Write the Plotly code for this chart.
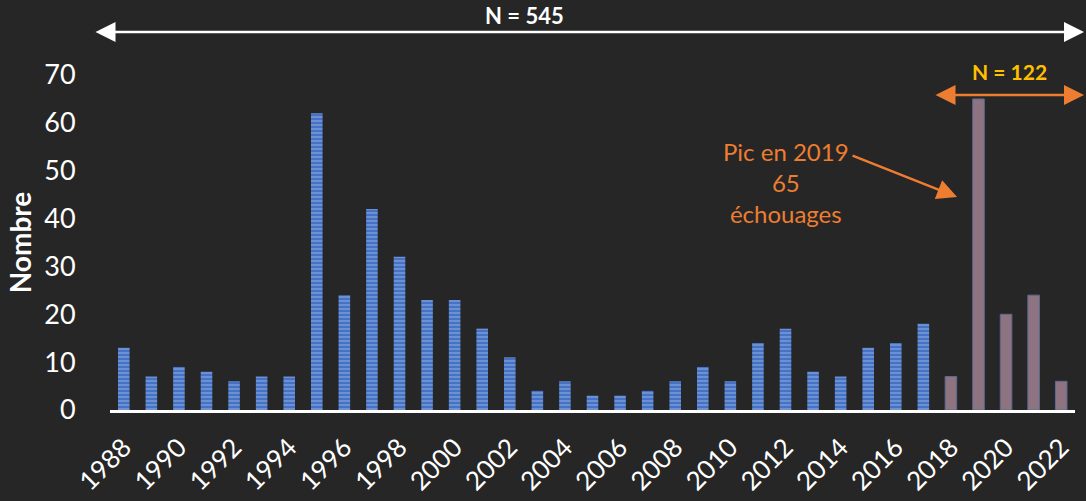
import plotly.graph_objects as go

years = list(range(1988, 2023))
counts = [13, 7, 9, 8, 6, 7, 7, 62, 24, 42, 32, 23, 23, 17, 11, 4, 6, 3, 3, 4,
          6, 9, 6, 14, 17, 8, 7, 13, 14, 18, 7, 65, 20, 24, 6]
recent_start = 2018
tick_years = list(range(1988, 2023, 2))
y_ticks = list(range(0, 71, 10))

old_x = [y for y in years if y < recent_start]
old_y = [c for y, c in zip(years, counts) if y < recent_start]
new_x = [y for y in years if y >= recent_start]
new_y = [c for y, c in zip(years, counts) if y >= recent_start]

FONT = "Lato"
BG = "#262626"
ORANGE = "#ED7D31"

fig = go.Figure()
fig.add_trace(go.Bar(
    x=old_x, y=old_y, width=0.42,
    marker=dict(color="#4472C4", line=dict(width=0),
                pattern=dict(shape="-", fgcolor="#9DB5E0", size=4, solidity=0.45)),
))
fig.add_trace(go.Bar(
    x=new_x, y=new_y, width=0.42,
    marker=dict(color="#8E7480", line=dict(width=1, color="#5B6A92")),
))

txt = dict(xref="paper", yref="paper", showarrow=False, xanchor="center", yanchor="middle")
annotations = [
    # white double arrow N = 545
    dict(x=1.0093, y=1.128, xref="paper", yref="paper", ax=-990, ay=0,
         axref="pixel", ayref="pixel",
         text="", showarrow=True, arrowside="end+start", arrowhead=2, arrowsize=1.6,
         arrowwidth=2.5, arrowcolor="white"),
    dict(x=0.4296, y=1.179, text="<b>N = 545</b>",
         font=dict(family=FONT, size=22, color="white"), **txt),
    # orange double arrow N = 122
    dict(x=1.0093, y=0.9403, xref="paper", yref="paper", ax=-150, ay=0,
         axref="pixel", ayref="pixel",
         text="", showarrow=True, arrowside="end+start", arrowhead=2, arrowsize=1.6,
         arrowwidth=2.5, arrowcolor=ORANGE),
    dict(x=0.9317, y=1.009, text="<b>N = 122</b>",
         font=dict(family=FONT, size=21, color="#FFC000"), **txt),
    # pointer arrow
    dict(x=0.8778, y=0.6358, xref="paper", yref="paper", ax=-106, ay=-42,
         axref="pixel", ayref="pixel",
         text="", showarrow=True, arrowhead=2, arrowsize=1.6, arrowwidth=2.5,
         arrowcolor=ORANGE),
    dict(x=0.7008, y=0.678, text="Pic en 2019<br>65<br>échouages", align="center",
         font=dict(family=FONT, size=24, color=ORANGE), **txt),
]

fig.update_layout(
    width=1086, height=501,
    paper_bgcolor=BG, plot_bgcolor=BG,
    margin=dict(l=110, r=11, t=75, b=91, autoexpand=False),
    barmode="overlay", showlegend=False,
    font=dict(family=FONT, color="white"),
    annotations=annotations,
    xaxis=dict(range=[1987.5, 2022.5], tickvals=tick_years, ticktext=[str(t) for t in tick_years],
               tickangle=-45, tickfont=dict(size=26, color="white"), ticklabelstandoff=9,
               showgrid=False, zeroline=False, showline=True, linecolor="white", linewidth=3,
               ticks="", automargin=False),
    yaxis=dict(range=[0, 70], tickvals=y_ticks, tickfont=dict(size=27, color="white"),
               showgrid=False, zeroline=False, showline=False, automargin=False,
               ticks="outside", ticklen=28, tickcolor=BG,
               title=dict(text="<b>Nombre</b>", font=dict(size=28, color="white"), standoff=4)),
)

fig.write_html("out.html", config={"displayModeBar": False},
               post_script="document.body.style.margin='0';document.body.style.background='#262626';")
